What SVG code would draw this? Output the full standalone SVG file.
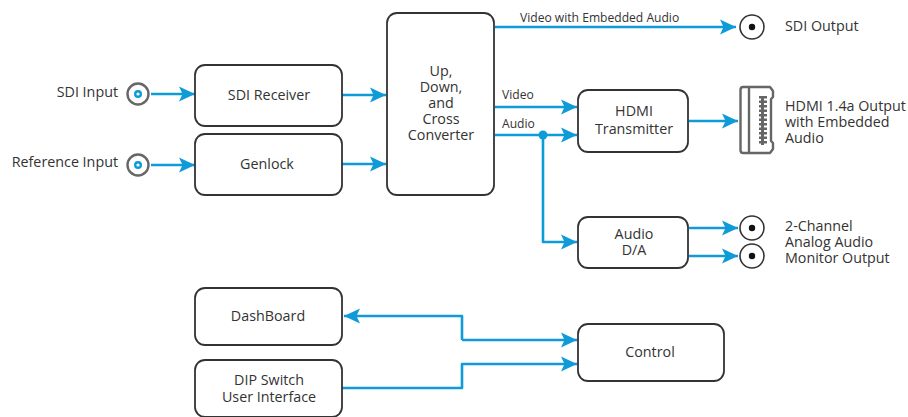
<svg xmlns="http://www.w3.org/2000/svg" width="908" height="417" viewBox="0 0 908 417">
<style>
text{font-family:"Open Sans","Noto Sans",sans-serif;font-size:14.3px;fill:#333;text-anchor:middle}
.l{text-anchor:start}.e{text-anchor:end}.s{font-size:12.1px}
.box{fill:#fff;stroke:#333;stroke-width:1.8}
.w{fill:none;stroke:#0f9bd7;stroke-width:2.6;stroke-linejoin:round;marker-end:url(#a)}
.in{fill:#fff;stroke:#666;stroke-width:2.4}
.out{fill:#fff;stroke:#333;stroke-width:1.6}
</style>
<defs><marker id="a" markerUnits="userSpaceOnUse" markerWidth="17" markerHeight="16" refX="16" refY="8" orient="auto"><path d="M0 0.500L16 8L0 15.500L3.500 8Z" fill="#0f9bd7"/></marker></defs>
<g id="connectors">
<path class="w" d="M151 94H195"/><path class="w" d="M151 165H195"/>
<path class="w" d="M342 95H386"/><path class="w" d="M342 164H386"/>
<path class="w" d="M495 27H736"/><path class="w" d="M495 107H577"/><path class="w" d="M495 135H577"/>
<path class="w" d="M543 135V242H577"/><circle cx="543" cy="135" r="4.500" fill="#0f9bd7"/>
<path class="w" d="M689 121H738"/><path class="w" d="M689 228H738"/><path class="w" d="M689 256H738"/>
<path class="w" d="M462 340V316H344"/><path class="w" d="M462 340H577"/>
<path class="w" d="M342 388H462V364H577"/>
</g>
<g id="sdi-input"><text class="e" x="118" y="97">SDI Input</text><circle class="in" cx="138" cy="94" r="10.500"/><circle cx="138" cy="94" r="2.800" fill="#fff" stroke="#0f9bd7" stroke-width="2.400"/></g>
<g id="reference-input"><text class="e" x="118" y="167">Reference Input</text><circle class="in" cx="138" cy="165" r="10.500"/><circle cx="138" cy="165" r="2.800" fill="#fff" stroke="#0f9bd7" stroke-width="2.400"/></g>
<g id="sdi-receiver"><rect class="box" x="195" y="65" width="147" height="61" rx="10"/><text x="269" y="100">SDI Receiver</text></g>
<g id="genlock"><rect class="box" x="195" y="134" width="147" height="61" rx="10"/><text x="267" y="169">Genlock</text></g>
<g id="converter"><rect class="box" x="387" y="13" width="107" height="182" rx="10"/><text x="441" y="76">Up,</text><text x="441" y="92">Down,</text><text x="441" y="108">and</text><text x="441" y="124">Cross</text><text x="441" y="140">Converter</text></g>
<g id="hdmi-tx"><rect class="box" x="578" y="90" width="110" height="62" rx="10"/><text x="634" y="116">HDMI</text><text x="634" y="134">Transmitter</text></g>
<g id="audio-da"><rect class="box" x="578" y="217" width="110" height="51" rx="10"/><text x="634" y="239">Audio</text><text x="634" y="255">D/A</text></g>
<g id="dashboard"><rect class="box" x="195" y="288" width="147" height="57" rx="10"/><text x="268" y="321">DashBoard</text></g>
<g id="dip"><rect class="box" x="195" y="360" width="147" height="57" rx="10"/><text x="269" y="385">DIP Switch</text><text x="269" y="402">User Interface</text></g>
<g id="control"><rect class="box" x="578" y="324" width="146" height="57" rx="10"/><text x="650" y="357">Control</text></g>
<g id="sdi-output"><circle class="out" cx="752" cy="27" r="12"/><circle cx="752" cy="27" r="3.200" fill="#111"/><text class="l" x="785" y="31">SDI Output</text></g>
<g id="hdmi-output"><path d="M743 87H770L773 91V97L771 99V141L773 143V149L770 153H743Q740.500 153 740.500 150V90Q740.500 87 743 87ZM749 87V153" fill="#fff" stroke="#666" stroke-width="2.400" stroke-linejoin="round"/><path d="M763 96V145" stroke="#666" stroke-width="8" stroke-dasharray="2.500 2"/><path d="M762.500 96V145" stroke="#666" stroke-width="3"/><text class="l" x="785" y="111">HDMI 1.4a Output</text><text class="l" x="785" y="127">with Embedded</text><text class="l" x="785" y="143">Audio</text></g>
<g id="audio-output"><circle class="out" cx="752" cy="228" r="12"/><circle cx="752" cy="228" r="3.200" fill="#111"/><circle class="out" cx="752" cy="256" r="12"/><circle cx="752" cy="256" r="3.200" fill="#111"/><text class="l" x="785" y="231">2-Channel</text><text class="l" x="785" y="247">Analog Audio</text><text class="l" x="785" y="263">Monitor Output</text></g>
<g id="labels"><text class="l s" x="520" y="22">Video with Embedded Audio</text><text class="l s" x="502" y="99">Video</text><text class="l s" x="502" y="128">Audio</text></g>
</svg>
